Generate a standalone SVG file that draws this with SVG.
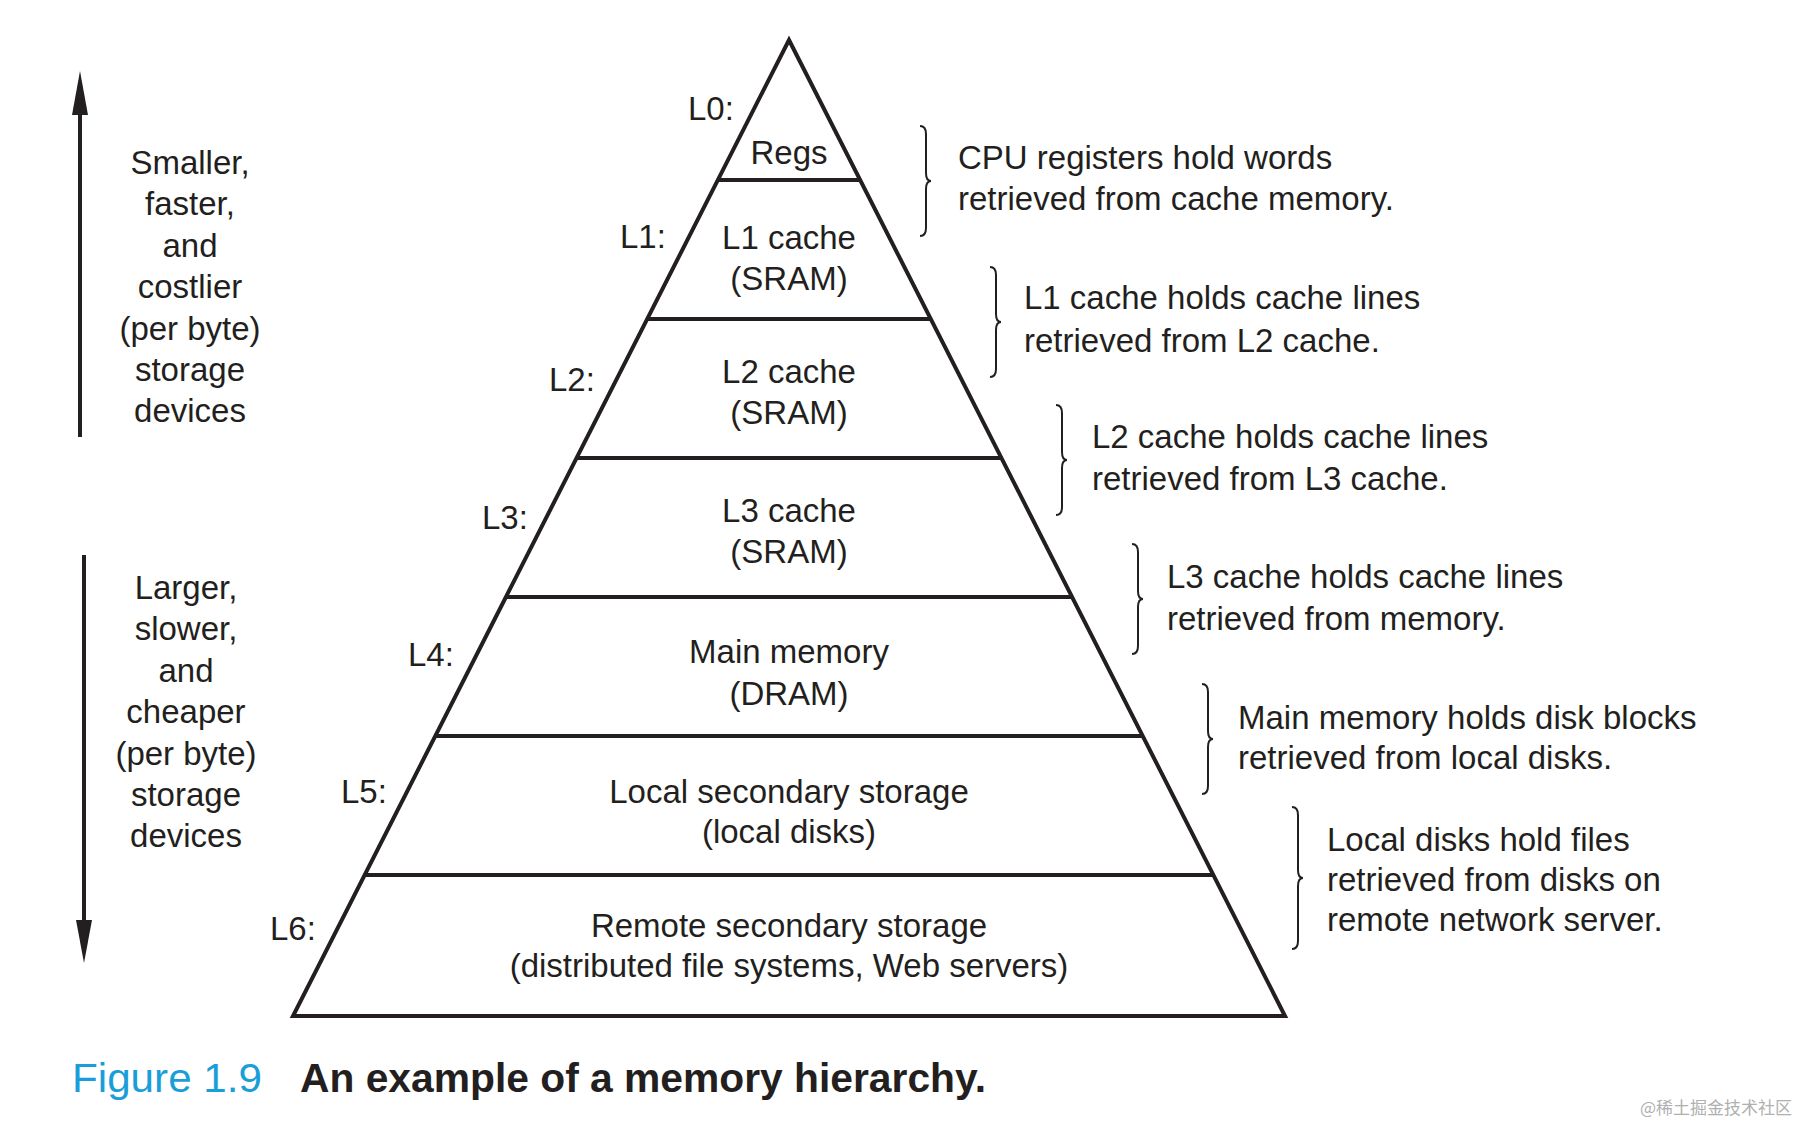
<svg xmlns="http://www.w3.org/2000/svg" width="1802" height="1124" viewBox="0 0 1802 1124">
<style>
text{font-family:"Liberation Sans",Arial,sans-serif;font-size:33px;fill:#231f20}
.c{text-anchor:middle}
.ln{stroke:#231f20;stroke-width:4;fill:none}
.br{stroke:#231f20;stroke-width:2;fill:none}
</style>
<defs>
<marker id="ah" viewBox="0 0 10 20" refX="5" refY="2" markerWidth="10" markerHeight="20" markerUnits="userSpaceOnUse" orient="auto-start-reverse"><path d="M0,0 L10,0 L5,20 Z" fill="#231f20"/></marker>
</defs>
<rect width="1802" height="1124" fill="#fff"/>
<g id="connectors">
<path class="ln" d="M80,437 V95" marker-end="url(#ah)" style="marker-end:none"/>
<path d="M72,115 L80,71 L88,115 Z" fill="#231f20"/>
<path class="ln" d="M84,555 V940"/>
<path d="M76,920 L84,963 L92,920 Z" fill="#231f20"/>
</g>
<g id="pyramid">
<path class="ln" d="M789,40 L1285,1016 L293,1016 Z"/>
<path class="ln" d="M718,180H860M647,319H931M577,458H1001M506,597H1072M435,736H1143M365,875H1213"/>
</g>
<g id="L0"><text x="688" y="120">L0:</text><text class="c" x="789" y="164">Regs</text></g>
<g id="L1"><text x="620" y="248">L1:</text><text class="c" x="789" y="249">L1 cache</text><text class="c" x="789" y="290">(SRAM)</text></g>
<g id="L2"><text x="549" y="391">L2:</text><text class="c" x="789" y="383">L2 cache</text><text class="c" x="789" y="424">(SRAM)</text></g>
<g id="L3"><text x="482" y="529">L3:</text><text class="c" x="789" y="522">L3 cache</text><text class="c" x="789" y="563">(SRAM)</text></g>
<g id="L4"><text x="408" y="666">L4:</text><text class="c" x="789" y="663">Main memory</text><text class="c" x="789" y="705">(DRAM)</text></g>
<g id="L5"><text x="341" y="803">L5:</text><text class="c" x="789" y="803">Local secondary storage</text><text class="c" x="789" y="843">(local disks)</text></g>
<g id="L6"><text x="270" y="940">L6:</text><text class="c" x="789" y="937">Remote secondary storage</text><text class="c" x="789" y="977">(distributed file systems, Web servers)</text></g>
<g id="notes">
<path class="br" d="M920,126 q6,0 6,8 v39 q0,8 5,8 q-5,0 -5,8 v39 q0,8 -6,8"/>
<text x="958" y="169">CPU registers hold words</text><text x="958" y="210">retrieved from cache memory.</text>
<path class="br" d="M990,267 q6,0 6,8 v39 q0,8 5,8 q-5,0 -5,8 v39 q0,8 -6,8"/>
<text x="1024" y="309">L1 cache holds cache lines</text><text x="1024" y="352">retrieved from L2 cache.</text>
<path class="br" d="M1056,405 q6,0 6,8 v39 q0,8 5,8 q-5,0 -5,8 v39 q0,8 -6,8"/>
<text x="1092" y="448">L2 cache holds cache lines</text><text x="1092" y="490">retrieved from L3 cache.</text>
<path class="br" d="M1132,544 q6,0 6,8 v39 q0,8 5,8 q-5,0 -5,8 v39 q0,8 -6,8"/>
<text x="1167" y="588">L3 cache holds cache lines</text><text x="1167" y="630">retrieved from memory.</text>
<path class="br" d="M1202,684 q6,0 6,8 v39 q0,8 5,8 q-5,0 -5,8 v39 q0,8 -6,8"/>
<text x="1238" y="729">Main memory holds disk blocks</text><text x="1238" y="769">retrieved from local disks.</text>
<path class="br" d="M1292,807 q6,0 6,8 v55 q0,8 5,8 q-5,0 -5,8 v55 q0,8 -6,8"/>
<text x="1327" y="851">Local disks hold files</text><text x="1327" y="891">retrieved from disks on</text><text x="1327" y="931">remote network server.</text>
</g>
<g id="left-text" class="c">
<text class="c" x="190" y="174">Smaller,</text><text class="c" x="190" y="215">faster,</text><text class="c" x="190" y="257">and</text><text class="c" x="190" y="298">costlier</text><text class="c" x="190" y="340">(per byte)</text><text class="c" x="190" y="381">storage</text><text class="c" x="190" y="422">devices</text>
<text class="c" x="186" y="599">Larger,</text><text class="c" x="186" y="640">slower,</text><text class="c" x="186" y="682">and</text><text class="c" x="186" y="723">cheaper</text><text class="c" x="186" y="765">(per byte)</text><text class="c" x="186" y="806">storage</text><text class="c" x="186" y="847">devices</text>
</g>
<g id="caption">
<text x="72" y="1092" style="font-size:41px;fill:#1a9ed9" textLength="190" lengthAdjust="spacingAndGlyphs">Figure 1.9</text>
<text x="300" y="1092" style="font-size:41px;font-weight:bold" textLength="686" lengthAdjust="spacingAndGlyphs">An example of a memory hierarchy.</text>
<text x="1640" y="1114" style="font-size:17px;fill:#b0b0b0;font-family:'Noto Sans CJK SC',sans-serif">@稀土掘金技术社区</text>
</g>
</svg>
